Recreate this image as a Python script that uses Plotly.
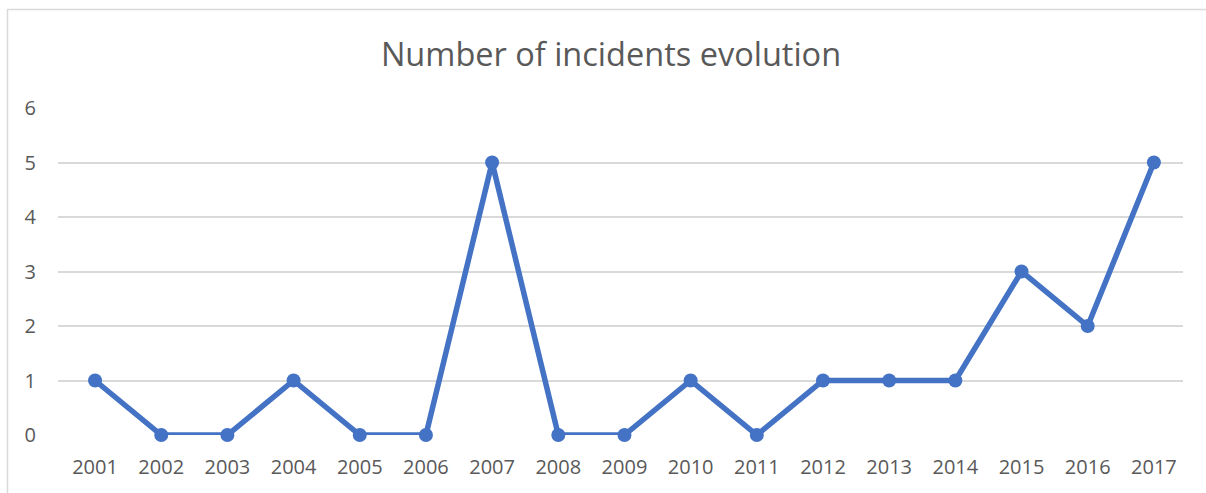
import plotly.graph_objects as go

years = ["2001", "2002", "2003", "2004", "2005", "2006", "2007", "2008", "2009",
         "2010", "2011", "2012", "2013", "2014", "2015", "2016", "2017"]
incidents = [1, 0, 0, 1, 0, 0, 5, 0, 0, 1, 0, 1, 1, 1, 3, 2, 5]
y_ticks = [0, 1, 2, 3, 4, 5, 6]

W, H = 1206, 493
L, R, T, B = 58, 23, 108, 58
pw, ph = W - L - R, H - T - B

fig = go.Figure()
fig.add_trace(go.Scatter(
    x=years, y=incidents, mode="lines+markers",
    line=dict(color="#4472C4", width=5.5),
    marker=dict(color="#4472C4", size=14),
    cliponaxis=False, showlegend=False,
))

def px_x(p):
    return (p - L) / pw

def px_y(p):
    return (H - B - p) / ph

fig.add_shape(type="rect", xref="paper", yref="paper",
              x0=px_x(7.5), x1=px_x(1215), y0=px_y(9.5), y1=px_y(510),
              line=dict(color="#D9D9D9", width=1.5), layer="below")

fig.update_layout(
    width=W, height=H,
    margin=dict(l=L, r=R, t=T, b=B),
    paper_bgcolor="white", plot_bgcolor="white",
    font=dict(family="Open Sans, Liberation Sans, sans-serif", color="#595959", size=20),
    title=dict(text="Number of incidents evolution", x=611 / W, xanchor="center",
               y=1 - 55 / H, yanchor="middle",
               font=dict(size=32.5, color="#595959")),
    xaxis=dict(type="category", range=[-0.56, 16.44], showgrid=False,
               showline=False, zeroline=False,
               ticks="outside", ticklen=14, tickcolor="rgba(0,0,0,0)",
               tickfont=dict(size=20, color="#595959")),
    yaxis=dict(range=[0, 6], tickvals=y_ticks, showgrid=True,
               gridcolor="#D9D9D9", gridwidth=1.5, zeroline=False,
               showline=False, ticks="outside", ticklen=17,
               tickcolor="rgba(0,0,0,0)",
               tickfont=dict(size=20, color="#595959")),
)
fig.write_html("out.html", config={"displayModeBar": False},
               post_script="document.body.style.margin='0px';document.body.style.overflow='hidden';")
